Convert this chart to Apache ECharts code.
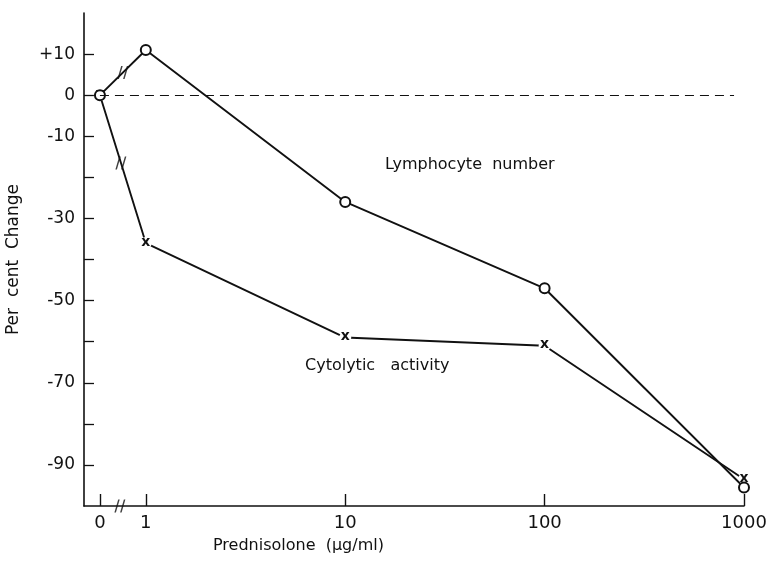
<!DOCTYPE html>
<html>
<head>
<meta charset="utf-8">
<script src="https://cdn.jsdelivr.net/npm/echarts@6/dist/echarts.min.js"></script>
<style>
  html, body { margin: 0; padding: 0; background: #fff; }
  #chart { width: 777px; height: 565px; }
</style>
</head>
<body>
<div id="chart"></div>
<script>
// prednisolone doses, placed on a log scale (decades); 0 sits left of 1 after the axis break
const xLabels = ['0', '1', '10', '100', '1000'];
const xPos = [-0.23, 0, 1, 2, 3];
const lymphocyte = [0, 11, -26, -47, -95.5];
const cytolytic = [0, -36, -59, -61, -93.5];
const yLabels = [10, 0, -10, -30, -50, -70, -90];
const yTicks = [10, 0, -10, -20, -30, -40, -50, -60, -70, -80, -90];
// where the "//" break marks sit (data coords)
const breakMarks = [[-0.115, 5.5], [-0.125, -16.5], [-0.13, -100]];

const ink = '#111';
const font = 'DejaVu Sans';

function pairs(ys) {
  return ys.map((y, i) => [xPos[i], y]);
}

const chart = echarts.init(document.getElementById('chart'));
chart.setOption({
  animation: false,
  backgroundColor: '#fff',
  grid: { left: 84, right: 33, top: 13, bottom: 59, containLabel: false, outerBoundsMode: 'none' },
  xAxis: {
    type: 'value',
    min: -0.31,
    max: 3,
    splitLine: { show: false },
    axisLine: { onZero: false, lineStyle: { color: ink, width: 1.6 } },
    axisTick: {
      inside: true, length: 12, customValues: xPos,
      lineStyle: { color: ink, width: 1.4 }
    },
    axisLabel: {
      customValues: xPos, margin: 8,
      color: ink, fontFamily: font, fontSize: 18,
      formatter: v => {
        const i = xPos.findIndex(p => Math.abs(p - v) < 1e-6);
        return i >= 0 ? xLabels[i] : '';
      }
    }
  },
  yAxis: {
    type: 'value',
    min: -100,
    max: 20,
    interval: 10,
    name: 'Per  cent  Change',
    nameLocation: 'middle',
    nameGap: 62,
    nameTextStyle: { color: ink, fontFamily: font, fontSize: 17 },
    splitLine: { show: false },
    axisLine: { onZero: false, lineStyle: { color: ink, width: 1.6 } },
    axisTick: {
      inside: true, length: 10, customValues: yTicks,
      lineStyle: { color: ink, width: 1.3 }
    },
    axisLabel: {
      customValues: yLabels, margin: 9,
      color: ink, fontFamily: font, fontSize: 17,
      formatter: v => (v > 0 ? '+' + v : String(v))
    }
  },
  series: [
    {
      name: 'Lymphocyte number',
      type: 'line',
      data: pairs(lymphocyte),
      symbol: 'emptyCircle',
      symbolSize: 10,
      lineStyle: { color: ink, width: 1.9 },
      itemStyle: { color: ink, borderWidth: 1.8 },
      z: 3,
      markLine: {
        silent: true,
        symbol: 'none',
        label: { show: false },
        lineStyle: { color: ink, type: [9, 6], width: 1.1 },
        data: [[{ coord: [xPos[0], 0] }, { coord: [2.95, 0] }]]
      }
    },
    {
      name: 'Cytolytic activity',
      type: 'line',
      data: pairs(cytolytic),
      symbol: 'circle',
      symbolSize: 12,
      lineStyle: { color: ink, width: 1.9 },
      itemStyle: { color: '#fff', borderWidth: 0 },
      label: {
        show: true, position: 'inside', formatter: 'x',
        color: ink, fontFamily: font, fontSize: 14, fontWeight: 'bold', offset: [0, -1]
      },
      z: 2
    },
    {
      type: 'scatter',
      data: breakMarks,
      symbol: 'path://M0,12 L4,0 L5.6,0 L1.6,12 Z M6,12 L10,0 L11.6,0 L7.6,12 Z',
      symbolSize: [11, 13],
      itemStyle: { color: ink },
      z: 4
    }
  ],
  graphic: [
    {
      type: 'text', left: 385, top: 157,
      style: { text: 'Lymphocyte  number', fill: ink, font: '16px "DejaVu Sans"' }
    },
    {
      type: 'text', left: 305, top: 358,
      style: { text: 'Cytolytic   activity', fill: ink, font: '16px "DejaVu Sans"' }
    },
    {
      type: 'text', left: 213, top: 538,
      style: { text: 'Prednisolone  (μg/ml)', fill: ink, font: '16px "DejaVu Sans"' }
    }
  ]
});
</script>
</body>
</html>
